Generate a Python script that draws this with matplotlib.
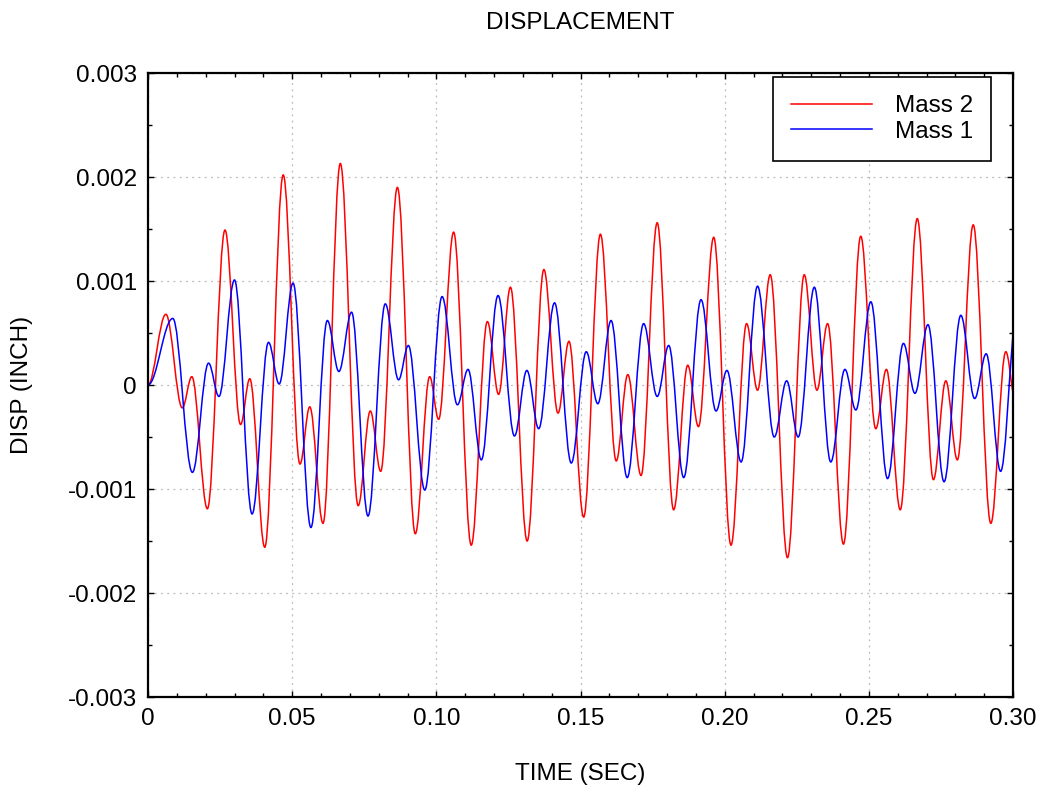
#!/usr/bin/env python3
"""Two-mass displacement response, redrawn from the extrema read off the plot."""

import matplotlib
matplotlib.use("Agg")
import matplotlib.pyplot as plt
from matplotlib.lines import Line2D
from matplotlib.patches import PathPatch
from matplotlib.path import Path
from matplotlib.ticker import FixedLocator, FixedFormatter, MultipleLocator

plt.rcParams["font.family"] = ["Liberation Sans", "DejaVu Sans"]

# turning points (time in s, displacement in units of 0.001 inch)
mass2_t = [0.0, 0.0062, 0.0119, 0.0152, 0.0206, 0.0267, 0.0321, 0.0353, 0.0405, 0.0469,
           0.0527, 0.0561, 0.0607, 0.0667, 0.0729, 0.0771, 0.0807, 0.0865, 0.0927, 0.0977,
           0.1008, 0.1060, 0.1121, 0.1177, 0.1216, 0.1257, 0.1315, 0.1373, 0.1422, 0.1460,
           0.1511, 0.1569, 0.1624, 0.1664, 0.1710, 0.1766, 0.1823, 0.1872, 0.1909, 0.1962,
           0.2022, 0.2076, 0.2114, 0.2158, 0.2218, 0.2276, 0.2320, 0.2357, 0.2412, 0.2472,
           0.2524, 0.2561, 0.2609, 0.2668, 0.2724, 0.2767, 0.2807, 0.2862, 0.2923, 0.2975,
           0.3000]
mass2_v = [0.0, 0.68, -0.22, 0.08, -1.19, 1.49, -0.38, 0.06, -1.56, 2.02,
           -0.76, -0.21, -1.33, 2.13, -1.16, -0.25, -0.83, 1.90, -1.43, 0.08,
           -0.33, 1.47, -1.54, 0.61, -0.09, 0.94, -1.50, 1.11, -0.27, 0.42,
           -1.27, 1.45, -0.73, 0.10, -0.87, 1.56, -1.20, 0.19, -0.40, 1.42,
           -1.54, 0.59, -0.05, 1.06, -1.66, 1.06, -0.05, 0.59, -1.53, 1.43,
           -0.42, 0.15, -1.20, 1.60, -0.91, 0.04, -0.72, 1.54, -1.33, 0.32,
           -0.08]

mass1_t = [0.0, 0.0086, 0.0154, 0.0210, 0.0246, 0.0300, 0.0361, 0.0418, 0.0455,
           0.0503, 0.0565, 0.0622, 0.0662, 0.0706, 0.0763, 0.0823, 0.0869, 0.0903, 0.0960,
           0.1020, 0.1073, 0.1110, 0.1156, 0.1214, 0.1271, 0.1314, 0.1355, 0.1410, 0.1468,
           0.1520, 0.1560, 0.1606, 0.1662, 0.1719, 0.1766, 0.1806, 0.1858, 0.1918, 0.1970,
           0.2008, 0.2057, 0.2114, 0.2172, 0.2215, 0.2255, 0.2311, 0.2368, 0.2417, 0.2455,
           0.2507, 0.2565, 0.2620, 0.2660, 0.2705, 0.2761, 0.2819, 0.2867, 0.2907, 0.2957,
           0.3000]
mass1_v = [0.0, 0.64, -0.84, 0.21, -0.11, 1.01, -1.24, 0.41, 0.01,
           0.98, -1.37, 0.62, 0.13, 0.70, -1.26, 0.78, 0.05, 0.38, -1.01,
           0.85, -0.19, 0.15, -0.72, 0.86, -0.49, 0.14, -0.42, 0.79, -0.75,
           0.32, -0.18, 0.62, -0.89, 0.59, -0.11, 0.38, -0.89, 0.82, -0.25,
           0.14, -0.74, 0.95, -0.50, 0.04, -0.50, 0.94, -0.74, 0.15, -0.24,
           0.80, -0.90, 0.40, -0.08, 0.58, -0.93, 0.67, -0.13, 0.30, -0.83,
           0.49]

x_ticks = [0.0, 0.05, 0.10, 0.15, 0.20, 0.25, 0.30]
x_labels = ["0", "0.05", "0.10", "0.15", "0.20", "0.25", "0.30"]
y_ticks = [-0.003, -0.002, -0.001, 0.0, 0.001, 0.002, 0.003]
y_labels = ["-0.003", "-0.002", "-0.001", "0", "0.001", "0.002", "0.003"]


def smooth_path(ts, vs):
    """Cubic segments between turning points, flat at every peak and trough."""
    pts = [(ts[0], vs[0] * 1e-3)]
    codes = [Path.MOVETO]
    last = len(ts) - 1
    for i in range(last):
        t0, v0 = ts[i], vs[i] * 1e-3
        t1, v1 = ts[i + 1], vs[i + 1] * 1e-3
        d = (t1 - t0) * 0.364
        c1 = (t0 + d, v0)
        if i + 1 == last:
            # end of record is not a turning point: aim along the chord
            c2 = (t1 - (t1 - t0) / 3, v1 - (v1 - v0) / 3)
        else:
            c2 = (t1 - d, v1)
        pts += [c1, c2, (t1, v1)]
        codes += [Path.CURVE4] * 3
    return Path(pts, codes)


def main() -> None:
    fig = plt.figure(figsize=(10.44, 7.92), dpi=100)
    ax = fig.add_axes([148 / 1044, 1 - 697 / 792, (1013 - 148) / 1044, (697 - 73) / 792])

    ax.add_patch(PathPatch(smooth_path(mass2_t, mass2_v), fill=False,
                           edgecolor="#ff0000", lw=1.1))
    ax.add_patch(PathPatch(smooth_path(mass1_t, mass1_v), fill=False,
                           edgecolor="#0000ff", lw=1.1))

    ax.set_xlim(0, 0.30)
    ax.set_ylim(-0.003, 0.003)
    ax.xaxis.set_major_locator(FixedLocator(x_ticks))
    ax.xaxis.set_major_formatter(FixedFormatter(x_labels))
    ax.yaxis.set_major_locator(FixedLocator(y_ticks))
    ax.yaxis.set_major_formatter(FixedFormatter(y_labels))
    ax.xaxis.set_minor_locator(MultipleLocator(0.01))
    ax.yaxis.set_minor_locator(MultipleLocator(0.0005))

    ax.tick_params(which="both", direction="in", top=True, right=True,
                   color="black", width=1.0, labelsize=17.5)
    ax.tick_params(which="major", length=4, pad=8)
    ax.tick_params(which="minor", length=3)
    for s in ax.spines.values():
        s.set_linewidth(1.6)

    ax.grid(True, which="major", color="#bbbbbb", linestyle=(0, (1.5, 3.5)), lw=0.9)
    ax.set_axisbelow(True)

    ax.set_title("DISPLACEMENT", fontsize=17.5, pad=32)
    ax.set_xlabel("TIME (SEC)", fontsize=17.5, labelpad=24)
    ax.set_ylabel("DISP (INCH)", fontsize=17.5, labelpad=25)

    handles = [Line2D([], [], color="#ff0000", lw=1.1),
               Line2D([], [], color="#0000ff", lw=1.1)]
    leg = ax.legend(handles, ["Mass 2", "Mass 1"], loc="upper right",
                    bbox_to_anchor=(0.9746, 0.9936), borderaxespad=0,
                    fontsize=17.5, frameon=True, fancybox=False,
                    edgecolor="black", framealpha=1, handlelength=3.3,
                    handletextpad=0.95, borderpad=0.75, labelspacing=0.15)
    leg.get_frame().set_linewidth(1.2)

    fig.savefig("out.png", dpi=100)


if __name__ == "__main__":
    main()
